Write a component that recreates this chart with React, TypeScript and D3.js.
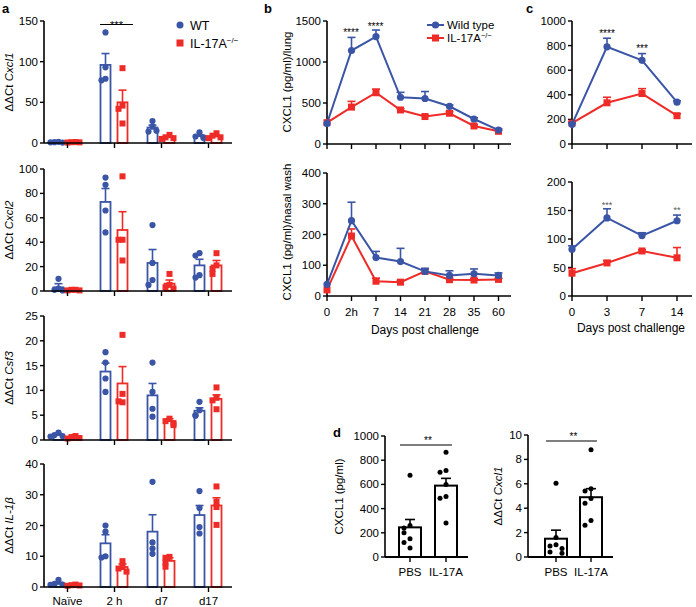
import React from 'react';
import * as d3 from 'd3';

const BLUE = '#3b55a6';
const RED = '#ee2b27';
const FONT = 'Arial, "Liberation Sans", Helvetica, sans-serif';

// ---------- Panel a data ----------
const aCategories = ['Naïve', '2 h', 'd7', 'd17'];

const cxcl1WTMean = [1, 96, 19, 8.5];
const cxcl1WTSem = [0.5, 14, 3, 1.5];
const cxcl1KOMean = [1, 50, 7, 8];
const cxcl1KOSem = [0.5, 15, 1.5, 1.5];
const cxcl1WTPts = [[1.5, 1, 0.5, 0.8], [136, 93, 79, 77], [27, 20, 14, 15], [13, 8, 7, 6]];
const cxcl1KOPts = [[1.2, 1, 0.8, 0.6], [92, 46, 42, 24], [10, 7, 6, 5], [12, 9, 7, 6]];

const cxcl2WTMean = [3, 73, 23, 21];
const cxcl2WTSem = [3, 11, 11, 5];
const cxcl2KOMean = [1, 50, 6, 21];
const cxcl2KOSem = [0.3, 15, 3, 4];
const cxcl2WTPts = [[10, 2, 1, 0.5], [93, 87, 66, 48], [54, 23, 9, 5], [31, 29, 13, 11]];
const cxcl2KOPts = [[1, 1, 0.5, 0.5], [94, 42, 42, 25], [14, 5, 3, 2], [31, 21, 18, 14]];

const csf3WTMean = [1, 13.8, 9, 5.9];
const csf3WTSem = [0.3, 1.7, 2.4, 0.6];
const csf3KOMean = [0.5, 11.4, 3.8, 8.3];
const csf3KOSem = [0.2, 3.4, 0.5, 0.8];
const csf3WTPts = [[1.5, 1, 0.8, 0.7], [17.7, 15.6, 12.4, 9.7], [15.6, 9.7, 6.3, 4.7], [7.7, 6, 5, 4.9]];
const csf3KOPts = [[0.8, 0.6, 0.4, 0.3], [21.2, 9.3, 7.6, 7.8], [4.3, 3.8, 3.4, 3.0], [10.6, 8.5, 8, 6.2]];

const il1bWTMean = [1, 14.2, 18, 23.4];
const il1bWTSem = [0.5, 2.8, 5.5, 3.1];
const il1bKOMean = [0.5, 6.5, 8.5, 26.5];
const il1bKOSem = [0.2, 1, 1, 2.5];
const il1bWTPts = [[2.3, 1, 0.8, 0.7], [20, 18, 10, 9.6], [34.2, 14.5, 12.5, 10.8], [31.2, 25.7, 19.5, 17.4]];
const il1bKOPts = [[0.8, 0.6, 0.5, 0.4], [8.4, 6.5, 6, 5], [9.8, 9.5, 8, 6.6], [32.7, 27.7, 26, 20.2]];

// ---------- Panel b data ----------
const bDays = ['0', '2h', '7', '14', '21', '28', '35', '60'];
const lungWT = [250, 1140, 1310, 570, 555, 460, 305, 170];
const lungWTSem = [0, 160, 80, 60, 85, 15, 15, 15];
const lungKO = [260, 450, 625, 415, 335, 375, 220, 155];
const lungKOSem = [0, 70, 45, 15, 15, 20, 15, 10];
const washWT = [38, 245, 125, 112, 80, 67, 72, 67];
const washWTSem = [0, 60, 20, 43, 10, 15, 16, 8];
const washKO = [20, 195, 48, 45, 80, 53, 52, 54];
const washKOSem = [0, 23, 10, 5, 8, 5, 4, 4];

// ---------- Panel c data ----------
const cDays = ['0', '3', '7', '14'];
const cTopWT = [160, 790, 680, 340];
const cTopWTSem = [10, 70, 55, 10];
const cTopKO = [170, 335, 410, 230];
const cTopKOSem = [10, 45, 40, 15];
const cBotWT = [82, 137, 106, 132];
const cBotWTSem = [6, 16, 5, 10];
const cBotKO = [40, 58, 79, 67];
const cBotKOSem = [8, 4, 2, 18];

// ---------- Panel d data ----------
const dGroups = ['PBS', 'IL-17A'];
const dCxclMean = [245, 590];
const dCxclSem = [65, 60];
const dCxclPts = [[675, 260, 240, 200, 150, 120, 75], [865, 715, 700, 600, 500, 485, 280]];
const dGeneMean = [1.5, 4.9];
const dGeneSem = [0.7, 0.7];
const dGenePts = [[6.05, 1.6, 1.0, 0.9, 0.7, 0.4, 0.3], [8.8, 5.6, 5.4, 4.8, 4.4, 3.0, 2.6]];

type Scale = d3.ScaleLinear<number, number>;

function spread(vals: number[], y: Scale, cx: number, step: number) {
  const placed: number[] = [];
  const offs = [0, -1, 1, -2, 2, -0.5, 0.5];
  return vals.map((v) => {
    const py = y(v);
    const n = placed.filter((p) => Math.abs(p - py) < 5).length;
    placed.push(py);
    return { x: cx + offs[Math.min(n, offs.length - 1)] * step, y: py };
  });
}

function YAxis({ y, x, ticks }: { y: Scale; x: number; ticks: number[] }) {
  const r = y.range();
  return (
    <g>
      <line x1={x} x2={x} y1={r[0]} y2={r[1]} stroke="#000" strokeWidth={1.6} />
      {ticks.map((t) => (
        <g key={t}>
          <line x1={x - 4} x2={x} y1={y(t)} y2={y(t)} stroke="#000" strokeWidth={1.4} />
          <text x={x - 6} y={y(t) + 4} textAnchor="end" fontSize={11.5} fontFamily={FONT}>
            {String(t)}
          </text>
        </g>
      ))}
    </g>
  );
}

function Square({ x, y, s, fill }: { x: number; y: number; s: number; fill: string }) {
  return <rect x={x - s / 2} y={y - s / 2} width={s} height={s} fill={fill} />;
}

function ErrUp({ x, y0, y1, color, cap }: { x: number; y0: number; y1: number; color: string; cap: number }) {
  return (
    <g stroke={color} strokeWidth={1.6}>
      <line x1={x} x2={x} y1={y0} y2={y1} />
      <line x1={x - cap / 2} x2={x + cap / 2} y1={y1} y2={y1} />
    </g>
  );
}

function BarSub({
  top, bottom, yMax, ticks, gene, wtMean, wtSem, koMean, koSem, wtPts, koPts, showX,
}: any) {
  const x = d3.scaleBand<string>().domain(aCategories).range([44, 232]);
  const y = d3.scaleLinear().domain([0, yMax]).range([bottom, top]);
  const bw = 10;
  const mid = (top + bottom) / 2;
  return (
    <g>
      {aCategories.map((c, i) => {
        const cx = (x(c) as number) + x.bandwidth() / 2;
        const wx = cx - 9;
        const kx = cx + 8;
        return (
          <g key={c}>
            <rect x={wx - bw / 2} y={y(wtMean[i])} width={bw} height={bottom - y(wtMean[i])} fill="white" stroke={BLUE} strokeWidth={1.8} />
            <rect x={kx - bw / 2} y={y(koMean[i])} width={bw} height={bottom - y(koMean[i])} fill="white" stroke={RED} strokeWidth={1.8} />
            <ErrUp x={wx} y0={y(wtMean[i])} y1={y(wtMean[i] + wtSem[i])} color={BLUE} cap={8} />
            <ErrUp x={kx} y0={y(koMean[i])} y1={y(koMean[i] + koSem[i])} color={RED} cap={8} />
            {spread(wtPts[i], y, wx, 4).map((p, j) => (
              <circle key={j} cx={p.x} cy={p.y} r={3.1} fill={BLUE} />
            ))}
            {spread(koPts[i], y, kx, 4).map((p, j) => (
              <Square key={j} x={p.x} y={p.y} s={6} fill={RED} />
            ))}
            <line x1={cx} x2={cx} y1={bottom} y2={bottom + 5} stroke="#000" strokeWidth={1.4} />
            {showX && (
              <text x={cx} y={605} textAnchor="middle" fontSize={11.5} fontFamily={FONT}>{c}</text>
            )}
          </g>
        );
      })}
      <line x1={44} x2={232} y1={bottom} y2={bottom} stroke="#000" strokeWidth={1.6} />
      <YAxis y={y} x={44} ticks={ticks} />
      <text transform={`translate(13,${mid}) rotate(-90)`} textAnchor="middle" fontSize={11.5} fontFamily={FONT}>
        ΔΔCt <tspan fontStyle="italic">{gene}</tspan>
      </text>
    </g>
  );
}

function LineSub({ days, xr, axisEnd, top, bottom, yMax, ticks, wt, wtSem, ko, koSem, showX }: any) {
  const x = d3.scalePoint<string>().domain(days).range(xr);
  const y = d3.scaleLinear().domain([0, yMax]).range([bottom, top]);
  const line = d3.line<number>().x((_, i) => x(days[i]) as number).y((v) => y(v));
  return (
    <g>
      <line x1={xr[0]} x2={axisEnd} y1={bottom} y2={bottom} stroke="#000" strokeWidth={1.6} />
      {days.map((d: string) => (
        <g key={d}>
          <line x1={x(d)} x2={x(d)} y1={bottom} y2={bottom + 5} stroke="#000" strokeWidth={1.4} />
          {showX && (
            <text x={x(d)} y={bottom + 20} textAnchor="middle" fontSize={11.5} fontFamily={FONT}>{d}</text>
          )}
        </g>
      ))}
      <YAxis y={y} x={xr[0]} ticks={ticks} />
      {ko.map((v: number, i: number) => koSem[i] > 0 && (
        <ErrUp key={'ke' + i} x={x(days[i]) as number} y0={y(v)} y1={y(v + koSem[i])} color={RED} cap={8} />
      ))}
      <path d={line(ko) as string} fill="none" stroke={RED} strokeWidth={2} />
      {ko.map((v: number, i: number) => (
        <Square key={'k' + i} x={x(days[i]) as number} y={y(v)} s={7} fill={RED} />
      ))}
      {wt.map((v: number, i: number) => wtSem[i] > 0 && (
        <ErrUp key={'we' + i} x={x(days[i]) as number} y0={y(v)} y1={y(v + wtSem[i])} color={BLUE} cap={8} />
      ))}
      <path d={line(wt) as string} fill="none" stroke={BLUE} strokeWidth={2} />
      {wt.map((v: number, i: number) => (
        <circle key={'w' + i} cx={x(days[i]) as number} cy={y(v)} r={3.6} fill={BLUE} />
      ))}
    </g>
  );
}

function DotBar({ axisX, barX, axisEnd, top, bottom, yMax, ticks, mean, sem, pts, label, italic, sigY, labelX }: any) {
  const y = d3.scaleLinear().domain([0, yMax]).range([bottom, top]);
  const bw = 22;
  const mid = (top + bottom) / 2;
  return (
    <g>
      {dGroups.map((g, i) => {
        const cx = barX[i];
        return (
          <g key={g}>
            <rect x={cx - bw / 2} y={y(mean[i])} width={bw} height={bottom - y(mean[i])} fill="white" stroke="#000" strokeWidth={2} />
            <ErrUp x={cx} y0={y(mean[i])} y1={y(mean[i] + sem[i])} color="#000" cap={10} />
            {spread(pts[i], y, cx, 6).map((p, j) => (
              <circle key={j} cx={p.x} cy={p.y} r={2.5} fill="#000" />
            ))}
            <line x1={cx} x2={cx} y1={bottom} y2={bottom + 5} stroke="#000" strokeWidth={1.4} />
            <text x={cx} y={bottom + 19} textAnchor="middle" fontSize={11.5} fontFamily={FONT}>{g}</text>
          </g>
        );
      })}
      <line x1={axisX} x2={axisEnd} y1={bottom} y2={bottom} stroke="#000" strokeWidth={1.8} />
      <YAxis y={y} x={axisX} ticks={ticks} />
      <line x1={barX[0] - 10} x2={barX[1] + 6} y1={sigY} y2={sigY} stroke="#000" strokeWidth={1.2} />
      <text x={(barX[0] + barX[1]) / 2} y={sigY - 1} textAnchor="middle" fontSize={10} fontFamily={FONT}>**</text>
      <text transform={`translate(${labelX},${mid}) rotate(-90)`} textAnchor="middle" fontSize={11.5} fontFamily={FONT}>
        {italic ? (<>ΔΔCt <tspan fontStyle="italic">{label}</tspan></>) : label}
      </text>
    </g>
  );
}

export default function App() {
  const pl = (t: string, x: number, y: number) => (
    <text x={x} y={y} fontSize={13} fontWeight="bold" fontFamily={FONT}>{t}</text>
  );
  return (
    <svg width={696} height={607} style={{ position: 'absolute', left: 0, top: 0, background: 'white' }}>
      <rect width={696} height={607} fill="white" />
      {pl('a', 2, 13)}
      {pl('b', 264, 13)}
      {pl('c', 526, 13)}
      {pl('d', 333, 437)}

      {/* Panel a */}
      <BarSub top={21} bottom={143} yMax={150} ticks={[0, 50, 100, 150]} gene="Cxcl1"
        wtMean={cxcl1WTMean} wtSem={cxcl1WTSem} koMean={cxcl1KOMean} koSem={cxcl1KOSem}
        wtPts={cxcl1WTPts} koPts={cxcl1KOPts} />
      <line x1={100} x2={133} y1={24.5} y2={24.5} stroke="#000" strokeWidth={1.2} />
      <text x={116.5} y={29} textAnchor="middle" fontSize={11} fontFamily={FONT}>***</text>
      <circle cx={180} cy={25} r={3.5} fill={BLUE} />
      <text x={190} y={29.5} fontSize={12.5} fontFamily={FONT}>WT</text>
      <Square x={180} y={43} s={7} fill={RED} />
      <text x={190} y={47.5} fontSize={12.5} fontFamily={FONT}>IL-17A<tspan dy={-5} fontSize={8}>−/−</tspan></text>

      <BarSub top={169} bottom={291} yMax={100} ticks={[0, 20, 40, 60, 80, 100]} gene="Cxcl2"
        wtMean={cxcl2WTMean} wtSem={cxcl2WTSem} koMean={cxcl2KOMean} koSem={cxcl2KOSem}
        wtPts={cxcl2WTPts} koPts={cxcl2KOPts} />
      <BarSub top={316} bottom={440} yMax={25} ticks={[0, 5, 10, 15, 20, 25]} gene="Csf3"
        wtMean={csf3WTMean} wtSem={csf3WTSem} koMean={csf3KOMean} koSem={csf3KOSem}
        wtPts={csf3WTPts} koPts={csf3KOPts} />
      <BarSub top={464} bottom={587} yMax={40} ticks={[0, 10, 20, 30, 40]} gene="IL-1β"
        wtMean={il1bWTMean} wtSem={il1bWTSem} koMean={il1bKOMean} koSem={il1bKOSem}
        wtPts={il1bWTPts} koPts={il1bKOPts} showX />

      {/* Panel b */}
      <LineSub days={bDays} xr={[327, 498.5]} axisEnd={511} top={21} bottom={144} yMax={1500}
        ticks={[0, 500, 1000, 1500]} wt={lungWT} wtSem={lungWTSem} ko={lungKO} koSem={lungKOSem} />
      <text x={351} y={36} textAnchor="middle" fontSize={10} fontFamily={FONT}>****</text>
      <text x={375.5} y={30} textAnchor="middle" fontSize={10} fontFamily={FONT}>****</text>
      <line x1={427} x2={444} y1={25} y2={25} stroke={BLUE} strokeWidth={2} />
      <circle cx={435.5} cy={25} r={3.6} fill={BLUE} />
      <text x={447} y={29} fontSize={11.5} fontFamily={FONT}>Wild type</text>
      <line x1={427} x2={444} y1={38} y2={38} stroke={RED} strokeWidth={2} />
      <Square x={435.5} y={38} s={7} fill={RED} />
      <text x={447} y={42} fontSize={11.5} fontFamily={FONT}>IL-17A<tspan dy={-4} fontSize={7.5}>−/−</tspan></text>
      <text transform="translate(291,82) rotate(-90)" textAnchor="middle" fontSize={11.5} fontFamily={FONT}>CXCL1 (pg/ml)/lung</text>

      <LineSub days={bDays} xr={[327, 498.5]} axisEnd={511} top={173} bottom={296} yMax={400}
        ticks={[0, 100, 200, 300, 400]} wt={washWT} wtSem={washWTSem} ko={washKO} koSem={washKOSem} showX />
      <text transform="translate(291,232) rotate(-90)" textAnchor="middle" fontSize={11.5} fontFamily={FONT}>CXCL1 (pg/ml)/nasal wash</text>
      <text x={425} y={334} textAnchor="middle" fontSize={12} fontFamily={FONT}>Days post challenge</text>

      {/* Panel c */}
      <LineSub days={cDays} xr={[572, 677]} axisEnd={692} top={21} bottom={144} yMax={1000}
        ticks={[0, 200, 400, 600, 800, 1000]} wt={cTopWT} wtSem={cTopWTSem} ko={cTopKO} koSem={cTopKOSem} />
      <text x={607} y={37} textAnchor="middle" fontSize={10} fontFamily={FONT}>****</text>
      <text x={642} y={52} textAnchor="middle" fontSize={10} fontFamily={FONT}>***</text>
      <LineSub days={cDays} xr={[572, 677]} axisEnd={692} top={182} bottom={296} yMax={200}
        ticks={[0, 50, 100, 150, 200]} wt={cBotWT} wtSem={cBotWTSem} ko={cBotKO} koSem={cBotKOSem} showX />
      <text x={607} y={208} textAnchor="middle" fontSize={9} fill="#555" fontFamily={FONT}>***</text>
      <text x={677} y={213} textAnchor="middle" fontSize={9} fill="#555" fontFamily={FONT}>**</text>
      <text x={631} y={332} textAnchor="middle" fontSize={12} fontFamily={FONT}>Days post challenge</text>

      {/* Panel d */}
      <DotBar axisX={385} barX={[410, 446]} axisEnd={468} top={436} bottom={557} yMax={1000}
        ticks={[0, 200, 400, 600, 800, 1000]} mean={dCxclMean} sem={dCxclSem} pts={dCxclPts}
        label="CXCL1 (pg/ml)" sigY={445} labelX={343} />
      <DotBar axisX={528} barX={[556, 591]} axisEnd={613} top={435} bottom={557} yMax={10}
        ticks={[0, 2, 4, 6, 8, 10]} mean={dGeneMean} sem={dGeneSem} pts={dGenePts}
        label="Cxcl1" italic sigY={441} labelX={502} />
    </svg>
  );
}
